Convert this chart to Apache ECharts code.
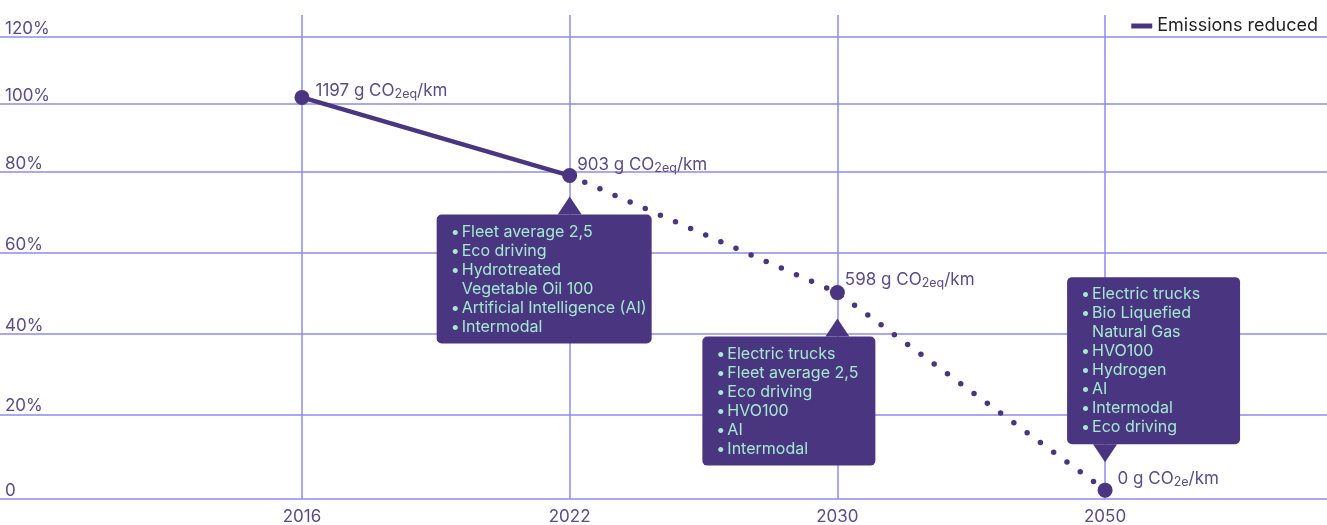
<!DOCTYPE html>
<html>
<head>
<meta charset="utf-8">
<script src="https://cdn.jsdelivr.net/npm/echarts@6/dist/echarts.min.js"></script>
<style>
html,body{margin:0;padding:0;background:#fff;}
#chart{width:1327px;height:525px;}
</style>
</head>
<body>
<div id="chart"></div>
<script>
// ---- data ----
const years = ['2016', '2022', '2030', '2050'];
const emissionsLabel = ['1197', '903', '598', '0'];
const emissionsUnitSub = ['2eq', '2eq', '2eq', '2e'];
// plotted level on the chart's (visual) percentage scale
const level = [104.3, 84.0, 53.6, 2.3];
// gridline positions and their tick labels
const yTickValues = [0, 22, 43, 64, 85, 102.6, 120];
const yTickLabels = ['0', '20%', '40%', '60%', '80%', '100%', '120%'];
const seriesName = 'Emissions reduced';
const measures2022 = [['Fleet average 2,5'], ['Eco driving'], ['Hydrotreated', 'Vegetable Oil 100'], ['Artificial Intelligence (AI)'], ['Intermodal']];
const measures2030 = [['Electric trucks'], ['Fleet average 2,5'], ['Eco driving'], ['HVO100'], ['AI'], ['Intermodal']];
const measures2050 = [['Electric trucks'], ['Bio Liquefied', 'Natural Gas'], ['HVO100'], ['Hydrogen'], ['AI'], ['Intermodal'], ['Eco driving']];

// ---- styles ----
const PURPLE = '#4a3581';
const TEXT = '#5b4b8c';
const GRID = '#8b8bf2';
const MINT = '#a3ead0';
const FONT = 'Inter';
// per-point label placement (style only)
const labelOffsets = [[0, -7], [-6, -11], [-6, -12.5], [-1, -11.5]];

function bulletText(items) {
  const lines = [];
  items.forEach(function (it) {
    it.forEach(function (line, i) {
      lines.push((i === 0 ? '{b|•}' : '{b| }') + '{t|' + line + '}');
    });
  });
  return lines.join('\n');
}

const boxLabel = {
  show: true,
  backgroundColor: PURPLE,
  borderRadius: 5,
  padding: [8, 8, 7, 14],
  align: 'left',
  rich: {
    b: { color: MINT, fontSize: 16, fontFamily: FONT, width: 11, lineHeight: 19 },
    t: { color: MINT, fontSize: 16, fontFamily: FONT, lineHeight: 19 }
  }
};

const pointLabel = {
  show: true,
  position: 'right',
  distance: 6,
  formatter: function (p) {
    const i = p.dataIndex;
    return '{a|' + emissionsLabel[i] + ' g CO}{s|' + emissionsUnitSub[i] + '}{a|/km}';
  },
  rich: {
    a: { color: TEXT, fontSize: 17, fontFamily: FONT },
    s: { color: TEXT, fontSize: 12.5, fontFamily: FONT, padding: [7, 0, 0, 0] }
  }
};

const solidData = [[0, level[0]], [1, level[1]]];
const dottedData = [[1, level[1]], [2, level[2]], [3, level[3]]];
const pointData = level.map(function (v, i) {
  return { value: [i, v], label: { offset: labelOffsets[i] } };
});

const chart = echarts.init(document.getElementById('chart'));
chart.setOption({
  animation: false,
  textStyle: { fontFamily: FONT },
  grid: { left: 0, right: 0, top: 15, bottom: 25, containLabel: false },
  legend: {
    right: 4, top: 12,
    itemWidth: 21, itemHeight: 5, itemGap: 8,
    textStyle: { color: '#222', fontSize: 18, fontFamily: FONT },
    data: [{ name: seriesName, icon: 'rect', itemStyle: { color: PURPLE } }]
  },
  xAxis: {
    type: 'value',
    min: -1.128, max: 3.829,
    axisLine: { show: false },
    axisTick: { show: false, customValues: [0, 1, 2, 3] },
    splitLine: { show: true, lineStyle: { color: GRID, width: 1.5 } },
    axisLabel: {
      customValues: [0, 1, 2, 3],
      formatter: function (v) { return years[Math.round(v)]; },
      color: TEXT, fontSize: 17, fontFamily: FONT, margin: 9
    }
  },
  yAxis: {
    type: 'value',
    min: 0, max: 125.7,
    axisLine: { show: false },
    axisTick: { show: false, customValues: yTickValues },
    splitLine: { show: true, lineStyle: { color: GRID, width: 1.5 } },
    axisLabel: {
      customValues: yTickValues,
      inside: true,
      margin: 5,
      verticalAlign: 'bottom',
      lineHeight: 16,
      formatter: function (v) { return yTickLabels[yTickValues.indexOf(v)]; },
      color: TEXT, fontSize: 17, fontFamily: FONT
    }
  },
  series: [
    {
      name: seriesName, type: 'line', data: solidData,
      symbol: 'none', z: 3,
      lineStyle: { color: PURPLE, width: 4.5 }
    },
    {
      name: seriesName, type: 'line', data: dottedData,
      symbol: 'none', z: 3,
      lineStyle: { color: PURPLE, width: 5.5, type: [0, 16.5], cap: 'round' }
    },
    {
      name: seriesName, type: 'scatter', data: pointData,
      symbol: 'circle', symbolSize: 15, z: 4,
      itemStyle: { color: PURPLE, opacity: 1 },
      label: pointLabel,
      markPoint: {
        silent: true,
        z: 5,
        data: [
          {
            coord: [1, level[1]], symbol: 'triangle', symbolSize: [24, 18], symbolOffset: [0, 30],
            itemStyle: { color: PURPLE },
            label: Object.assign({}, boxLabel, { position: [-121, 18], verticalAlign: 'top', width: 193, formatter: bulletText(measures2022) })
          },
          {
            coord: [2, level[2]], symbol: 'triangle', symbolSize: [24, 18], symbolOffset: [0, 35],
            itemStyle: { color: PURPLE },
            label: Object.assign({}, boxLabel, { position: [-123, 18], verticalAlign: 'top', width: 151, formatter: bulletText(measures2030) })
          },
          {
            coord: [3, level[3]], symbol: 'triangle', symbolSize: [24, 18], symbolOffset: [0, -37], symbolRotate: 180,
            itemStyle: { color: PURPLE },
            label: Object.assign({}, boxLabel, { position: [-26, 0], verticalAlign: 'bottom', width: 151, formatter: bulletText(measures2050) })
          }
        ]
      }
    }
  ]
});
</script>
</body>
</html>
